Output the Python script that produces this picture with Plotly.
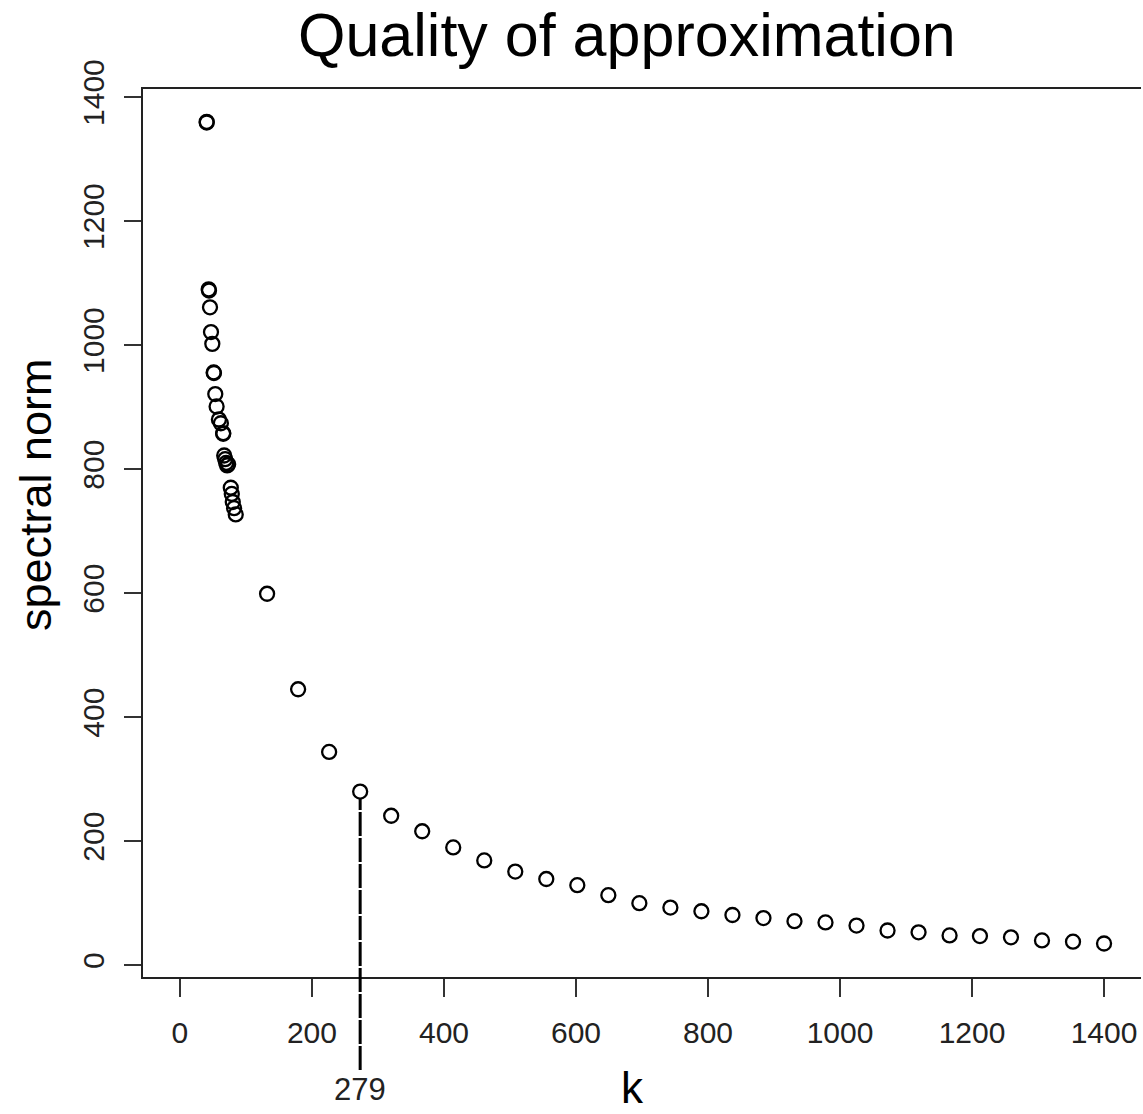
import plotly.graph_objects as go

# --- data ---
cluster_k = [40.5, 40.5, 43.5, 44, 45.5, 47, 49, 51, 51.5, 53.5, 55.5, 59, 62,
             65.5, 65.5, 67, 68.5, 70, 71.5, 73, 77, 78.5, 80, 82, 84.5]
cluster_v = [1360, 1359, 1090, 1088, 1061, 1021, 1002, 956, 955, 921, 901, 880, 874,
             858, 857, 822, 816, 810, 806, 808, 770, 760, 747, 737, 727]

main_k = [132, 179, 226, 273, 320, 367, 414, 461, 508, 555, 602, 649, 696, 743,
          790, 837, 884, 931, 978, 1025, 1072, 1119, 1166, 1212, 1259, 1306, 1353, 1400]
main_v = [599, 445, 344, 280, 241, 216, 190, 169, 151, 139, 129, 113, 100, 93,
          87, 81, 76, 71, 69, 64, 56, 53, 48, 47, 45, 40, 38, 35]

chosen_k = 273
chosen_v = 280
chosen_label = "279"

x_ticks = [0, 200, 400, 600, 800, 1000, 1200, 1400]
y_ticks = [0, 200, 400, 600, 800, 1000, 1200, 1400]

title_text = "Quality of approximation"
x_title = "k"
y_title = "spectral norm"

x_range = [-56, 1456]
y_range = [-19, 1413]

FONT = "Liberation Sans, Arial, sans-serif"
W, H = 1143, 1114
ML, MR, MT, MB = 143, 2, 89, 137
PW, PH = W - ML - MR, H - MT - MB


def px_x(p):
    return (p - ML) / PW


def px_y(p):
    return (H - MB - p) / PH


fig = go.Figure()
fig.add_trace(go.Scatter(
    x=cluster_k + main_k, y=cluster_v + main_v, mode="markers",
    marker=dict(symbol="circle-open", size=14, color="black", line=dict(width=2.3, color="black")),
    showlegend=False, cliponaxis=False,
))

# dashed vertical line from the chosen point down below the axis
y_top_paper = (chosen_v - y_range[0]) / (y_range[1] - y_range[0])
fig.add_shape(type="line", xref="x", yref="paper",
              x0=chosen_k, x1=chosen_k, y0=px_y(1070), y1=y_top_paper - 0.008,
              line=dict(color="black", width=3, dash="24px,2px"))

fig.add_annotation(x=chosen_k, xref="x", y=px_y(1089), yref="paper", text=chosen_label,
                   showarrow=False, font=dict(family=FONT, size=31, color="#222"),
                   xanchor="center", yanchor="middle")
fig.add_annotation(x=px_x(627), xref="paper", y=px_y(35), yref="paper", text=title_text,
                   showarrow=False, font=dict(family=FONT, size=61, color="black"),
                   xanchor="center", yanchor="middle")
fig.add_annotation(x=px_x(632), xref="paper", y=px_y(1114), yref="paper", text=x_title,
                   showarrow=False, font=dict(family=FONT, size=44, color="black"),
                   xanchor="center", yanchor="bottom")
fig.add_annotation(x=px_x(35), xref="paper", y=px_y(495), yref="paper", text=y_title,
                   textangle=-90, showarrow=False, font=dict(family=FONT, size=45, color="black"),
                   xanchor="center", yanchor="middle")

fig.update_xaxes(range=x_range, tickvals=x_ticks, ticks="outside", ticklen=18, tickwidth=1.5,
                 tickcolor="#333", showline=True, linecolor="#222", linewidth=1.5, mirror=True,
                 showgrid=False, zeroline=False, ticklabelstandoff=10,
                 tickfont=dict(family=FONT, size=30, color="#222"))
fig.update_yaxes(range=y_range, tickvals=y_ticks, ticks="outside", ticklen=17, tickwidth=1.5,
                 tickcolor="#333", showline=True, linecolor="#222", linewidth=1.5, mirror=False,
                 showgrid=False, zeroline=False, tickangle=-90, ticklabelstandoff=8,
                 tickfont=dict(family=FONT, size=30, color="#222"))

fig.update_layout(width=W, height=H, margin=dict(l=ML, r=MR, t=MT, b=MB, autoexpand=False),
                  plot_bgcolor="white", paper_bgcolor="white")

fig.write_html("out.html")
